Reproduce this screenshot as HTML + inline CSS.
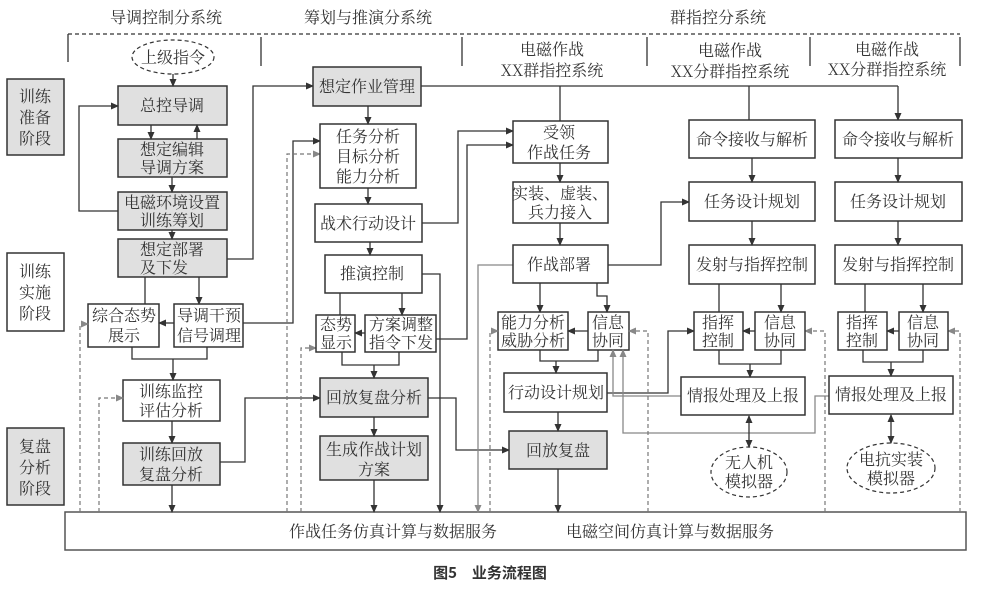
<!DOCTYPE html>
<html><head><meta charset="utf-8"><style>
html,body{margin:0;padding:0;background:#fff;}
svg{display:block;}
text{font-family:"Noto Serif CJK SC","Liberation Serif",serif;font-size:16px;fill:#333;text-anchor:middle;}
.b{fill:#fff;stroke:#333;stroke-width:1.5;}
.g{fill:#e0e0e0;stroke:#333;stroke-width:1.5;}
.l{fill:none;stroke:#333;stroke-width:1.3;}
.gl{fill:none;stroke:#888;stroke-width:1.3;}
.d{fill:none;stroke:#777;stroke-width:1.2;stroke-dasharray:4,3;}
</style></head><body>
<svg width="981" height="594" viewBox="0 0 981 594" xmlns="http://www.w3.org/2000/svg">
<defs>
<marker id="a" markerWidth="8" markerHeight="8" refX="7" refY="4" orient="auto" markerUnits="userSpaceOnUse"><path d="M0,0.5 L8,4 L0,7.5 Z" fill="#333"/></marker>
<marker id="ag" markerWidth="8" markerHeight="8" refX="7" refY="4" orient="auto" markerUnits="userSpaceOnUse"><path d="M0,0.5 L8,4 L0,7.5 Z" fill="#888"/></marker>
<marker id="as" markerWidth="8" markerHeight="8" refX="1" refY="4" orient="auto" markerUnits="userSpaceOnUse"><path d="M8,0.5 L0,4 L8,7.5 Z" fill="#333"/></marker>
</defs>
<text x="166" y="23">导调控制分系统</text>
<text x="368" y="23">筹划与推演分系统</text>
<text x="718" y="23">群指控分系统</text>
<path d="M68,34 H960" class="l" stroke-dasharray="4,3"/>
<path d="M68,34V62 M261,37V66 M462,37V66 M647,37V66 M810,37V66 M960,37V66" class="l"/>
<text x="552" y="55">电磁作战</text><text x="552" y="76">XX群指控系统</text>
<text x="730" y="56">电磁作战</text><text x="730" y="77">XX分群指控系统</text>
<text x="887" y="55">电磁作战</text><text x="887" y="75">XX分群指控系统</text>
<rect x="7" y="79" width="57" height="76" class="g"/><text x="35" y="102">训练</text><text x="35" y="123">准备</text><text x="35" y="144">阶段</text>
<rect x="7" y="253" width="57" height="78" class="b"/><text x="35" y="277">训练</text><text x="35" y="298">实施</text><text x="35" y="319">阶段</text>
<rect x="7" y="428" width="57" height="77" class="g"/><text x="35" y="452">复盘</text><text x="35" y="473">分析</text><text x="35" y="494">阶段</text>
<rect x="65" y="512" width="901" height="38" class="b" style="stroke:#555"/>
<text x="393" y="537">作战任务仿真计算与数据服务</text>
<text x="670" y="537">电磁空间仿真计算与数据服务</text>
<text x="490" y="578" style="font-family:'Noto Sans CJK SC','Liberation Sans',sans-serif;font-weight:bold;font-size:15px">图5　业务流程图</text>
<ellipse cx="173" cy="57" rx="41" ry="17" fill="none" stroke="#333" stroke-width="1.2" stroke-dasharray="4,3"/><text x="173" y="63">上级指令</text>
<rect x="118" y="86" width="109" height="39" class="g"/><text x="172" y="111">总控导调</text>
<rect x="118" y="139" width="109" height="38" class="g"/><text x="172" y="155">想定编辑</text><text x="172" y="173">导调方案</text>
<rect x="118" y="192" width="109" height="38" class="g"/><text x="172" y="208">电磁环境设置</text><text x="172" y="226">训练筹划</text>
<rect x="118" y="239" width="109" height="38" class="g"/><text x="172" y="255">想定部署</text><text x="164" y="273">及下发</text>
<rect x="88" y="304" width="71" height="43" class="b"/><text x="124" y="321">综合态势</text><text x="124" y="341">展示</text>
<rect x="174" y="304" width="69" height="43" class="b"/><text x="209" y="321">导调干预</text><text x="209" y="341">信号调理</text>
<rect x="123" y="380" width="97" height="41" class="b"/><text x="171" y="397">训练监控</text><text x="171" y="416">评估分析</text>
<rect x="123" y="443" width="97" height="42" class="g"/><text x="171" y="460">训练回放</text><text x="171" y="480">复盘分析</text>
<path d="M173,74V86" class="l" marker-end="url(#a)"/>
<path d="M151,125V139" class="l" marker-end="url(#a)"/>
<path d="M197,139V125" class="l" marker-end="url(#a)"/>
<path d="M172,177V192" class="l" marker-end="url(#a)"/>
<path d="M172,230V239" class="l" marker-end="url(#a)"/>
<path d="M118,211H79V106H118" class="l" marker-end="url(#a)"/>
<path d="M227,259H253V86H313" class="l" marker-end="url(#a)"/>
<path d="M145,277V304 M199,277V304" class="l" marker-end="url(#a)"/>
<path d="M174,323H159" class="l" marker-end="url(#a)"/>
<path d="M243,323H293V141H320" class="l" marker-end="url(#a)"/>
<path d="M132,347V359H207V347 M173,359V380" class="l" marker-end="url(#a)"/>
<path d="M172,421V443" class="l" marker-end="url(#a)"/>
<path d="M220,462H245V398H320" class="l" marker-end="url(#a)"/>
<path d="M172,485V512" class="l" marker-end="url(#a)"/>
<path d="M80,512V324H88" class="d" marker-end="url(#ag)"/>
<path d="M99,512V398H123" class="d" marker-end="url(#ag)"/>
<path d="M287,512V154H320" class="d" marker-end="url(#ag)"/>
<path d="M301,512V348H316" class="d" marker-end="url(#ag)"/>
<rect x="313" y="67" width="108" height="39" class="g"/><text x="367" y="92">想定作业管理</text>
<rect x="320" y="124" width="96" height="64" class="b"/><text x="368" y="142">任务分析</text><text x="368" y="162">目标分析</text><text x="368" y="182">能力分析</text>
<rect x="315" y="204" width="107" height="38" class="b"/><text x="368" y="229">战术行动设计</text>
<rect x="325" y="255" width="97" height="38" class="b"/><text x="372" y="279">推演控制</text>
<rect x="316" y="315" width="39" height="37" class="b"/><text x="336" y="330">态势</text><text x="336" y="348">显示</text>
<rect x="365" y="315" width="71" height="37" class="b"/><text x="401" y="330">方案调整</text><text x="401" y="348">指令下发</text>
<rect x="320" y="378" width="108" height="39" class="g"/><text x="374" y="403">回放复盘分析</text>
<rect x="320" y="436" width="108" height="44" class="g"/><text x="374" y="455">生成作战计划</text><text x="374" y="475">方案</text>
<path d="M368,106V124" class="l" marker-end="url(#a)"/>
<path d="M368,188V204" class="l" marker-end="url(#a)"/>
<path d="M370,242V255" class="l" marker-end="url(#a)"/>
<path d="M340,293V315 M402,293V315" class="l" marker-end="url(#a)"/>
<path d="M365,333H355" class="l" marker-end="url(#a)"/>
<path d="M342,352V365H399V352 M374,365V378" class="l" marker-end="url(#a)"/>
<path d="M374,417V436" class="l" marker-end="url(#a)"/>
<path d="M374,480V512" class="l" marker-end="url(#a)"/>
<path d="M422,274H440V512" class="l" marker-end="url(#a)"/>
<path d="M422,223H458V131H513" class="l" marker-end="url(#a)"/>
<path d="M436,339H467V145H513" class="l" marker-end="url(#a)"/>
<path d="M428,398H456V450H509" class="l" marker-end="url(#a)"/>
<path d="M513,265H478V512" class="gl" marker-end="url(#ag)"/>
<path d="M421,86H898" class="l"/>
<path d="M560,86V121 M749,86V120 M898,86V120" class="l" marker-end="url(#a)"/>
<rect x="513" y="121" width="95" height="42" class="b"/><text x="559" y="138">受领</text><text x="559" y="158">作战任务</text>
<rect x="513" y="182" width="95" height="41" class="b"/><text x="560" y="199">实装、虚装、</text><text x="560" y="218">兵力接入</text>
<rect x="513" y="245" width="95" height="38" class="b"/><text x="559" y="270">作战部署</text>
<rect x="498" y="312" width="70" height="38" class="b"/><text x="533" y="328">能力分析</text><text x="533" y="346">威胁分析</text>
<rect x="588" y="312" width="41" height="38" class="b"/><text x="608" y="328">信息</text><text x="608" y="346">协同</text>
<rect x="504" y="373" width="103" height="39" class="b"/><text x="556" y="398">行动设计规划</text>
<rect x="509" y="431" width="98" height="38" class="g"/><text x="558" y="456">回放复盘</text>
<path d="M560,163V182" class="l" marker-end="url(#a)"/>
<path d="M560,223V245" class="l" marker-end="url(#a)"/>
<path d="M540,283V312" class="l" marker-end="url(#a)"/>
<path d="M597,283V296H607V312" class="l" marker-end="url(#a)"/>
<path d="M588,331H568" class="l" marker-end="url(#a)"/>
<path d="M540,350V361H598V350 M556,361V373" class="l" marker-end="url(#a)"/>
<path d="M558,412V431" class="l" marker-end="url(#a)"/>
<path d="M558,469V512" class="l" marker-end="url(#a)"/>
<path d="M608,265H661V202H689" class="l" marker-end="url(#a)"/>
<path d="M607,393H668V331H694" class="l" marker-end="url(#a)"/>
<path d="M681,396H613V350" class="gl" marker-end="url(#ag)"/>
<path d="M829,396H815V433H623V350" class="gl" marker-end="url(#ag)"/>
<path d="M490,512V331H498" class="d" marker-end="url(#ag)"/>
<path d="M648,512V331H629" class="d" marker-end="url(#ag)"/>
<path d="M825,512V331H805" class="d" marker-end="url(#ag)"/>
<path d="M960,512V331H948" class="d" marker-end="url(#ag)"/>
<rect x="689" y="120" width="126" height="38" class="b"/><text x="752" y="145">命令接收与解析</text>
<rect x="689" y="182" width="126" height="39" class="b"/><text x="752" y="207">任务设计规划</text>
<rect x="689" y="245" width="126" height="39" class="b"/><text x="752" y="270">发射与指挥控制</text>
<rect x="694" y="312" width="49" height="38" class="b"/><text x="718" y="328">指挥</text><text x="718" y="346">控制</text>
<rect x="755" y="312" width="50" height="38" class="b"/><text x="780" y="328">信息</text><text x="780" y="346">协同</text>
<rect x="681" y="377" width="124" height="38" class="b"/><text x="743" y="401">情报处理及上报</text>
<ellipse cx="749" cy="472" rx="38" ry="25" fill="#fff" stroke="#333" stroke-width="1.2" stroke-dasharray="4,3"/><text x="749" y="468">无人机</text><text x="749" y="487">模拟器</text>
<path d="M752,158V182" class="l" marker-end="url(#a)"/>
<path d="M752,221V245" class="l" marker-end="url(#a)"/>
<path d="M719,284V312 M781,284V312" class="l" marker-end="url(#a)"/>
<path d="M755,331H743" class="l" marker-end="url(#a)"/>
<path d="M719,350V364H781V350 M750,364V377" class="l" marker-end="url(#a)"/>
<path d="M749,416V447" class="l" marker-end="url(#a)" marker-start="url(#as)"/>
<rect x="835" y="120" width="127" height="38" class="b"/><text x="898" y="145">命令接收与解析</text>
<rect x="835" y="182" width="127" height="39" class="b"/><text x="898" y="207">任务设计规划</text>
<rect x="835" y="245" width="127" height="39" class="b"/><text x="898" y="270">发射与指挥控制</text>
<rect x="838" y="312" width="49" height="38" class="b"/><text x="862" y="328">指挥</text><text x="862" y="346">控制</text>
<rect x="899" y="312" width="49" height="38" class="b"/><text x="923" y="328">信息</text><text x="923" y="346">协同</text>
<rect x="829" y="376" width="124" height="38" class="b"/><text x="891" y="400">情报处理及上报</text>
<ellipse cx="891" cy="468" rx="44" ry="25" fill="#fff" stroke="#333" stroke-width="1.2" stroke-dasharray="4,3"/><text x="891" y="465">电抗实装</text><text x="891" y="484">模拟器</text>
<path d="M898,158V182" class="l" marker-end="url(#a)"/>
<path d="M898,221V245" class="l" marker-end="url(#a)"/>
<path d="M865,284V312 M923,284V312" class="l" marker-end="url(#a)"/>
<path d="M899,331H887" class="l" marker-end="url(#a)"/>
<path d="M863,350V362H923V350 M891,362V376" class="l" marker-end="url(#a)"/>
<path d="M891,415V443" class="l" marker-end="url(#a)" marker-start="url(#as)"/>
</svg>
</body></html>
